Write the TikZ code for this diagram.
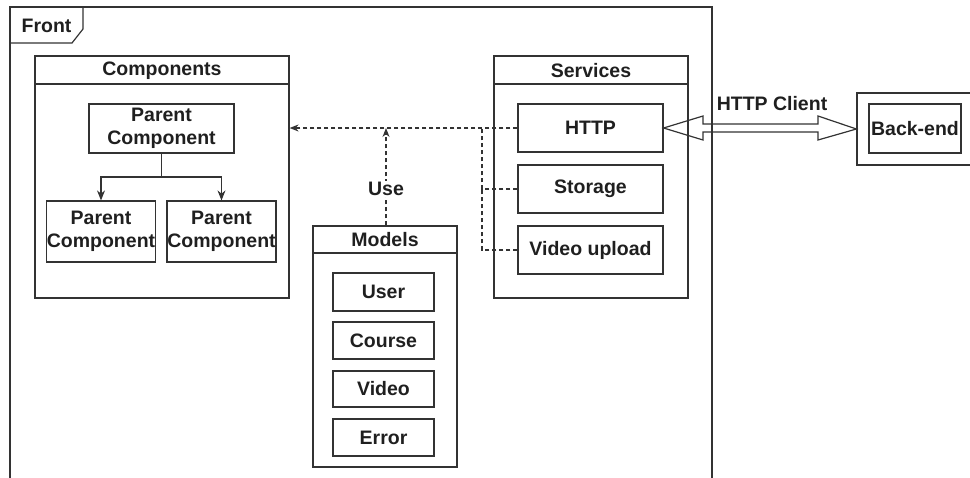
\documentclass[tikz,border=0pt]{standalone}
\usepackage{fontspec}
\setmainfont{Liberation Sans}
\usetikzlibrary{arrows.meta}
\definecolor{ink}{HTML}{333333}
\definecolor{txt}{HTML}{1F1F1F}
\tikzset{
  every node/.style={font=\fontsize{19.5}{22.5}\selectfont\bfseries, text=txt},
  box/.style={draw=ink, line width=1.2pt, inner sep=0pt, align=center},
  lbl/.style={inner sep=1pt},
  tree/.style={draw=ink, line width=1.2pt, -{Stealth[length=10pt,width=8pt]}},
  dep/.style={draw=ink, line width=1.2pt, dash pattern=on 4pt off 3pt},
  deparrow/.style={dep, -{Stealth[length=9pt,width=7pt]}},
}
\begin{document}
\begin{tikzpicture}[x=1pt, y=-1pt]
\useasboundingbox (0,0) rectangle (970,477);
\clip (0,0) rectangle (970,477);

% Front frame with its tab
\draw[ink, line width=1.2pt] (10,490) -- (10,7) -- (712,7) -- (712,490);
\draw[ink, line width=1.2pt] (83,7) -- (83,29) -- (72,43) -- (10,43);
\node[lbl] (front) at (46.5,25.5) {Front};

% Components container
\node[box, minimum width=254pt, minimum height=242pt] (comp) at (162,177) {};
\draw[ink, line width=1.2pt] (35,84) -- (289,84);
\node[lbl] (compT) at (162,71) {Components};
\node[box, minimum width=145pt, minimum height=49pt] (parent) at (161.5,128.5) {Parent\\Component};
\node[box, minimum width=108pt, minimum height=61pt] (childL) at (101,231.5) {Parent\\Component};
\node[box, minimum width=109pt, minimum height=61pt] (childR) at (221.5,231.5) {Parent\\Component};
\coordinate (split) at (161.5,177);
\draw[draw=ink, line width=1.2pt] (parent.south) -- (split);
\draw[tree] (split) -| (childL.north);
\draw[tree] (split) -| (childR.north);

% Services container
\node[box, minimum width=194pt, minimum height=242pt] (serv) at (591,177) {};
\draw[ink, line width=1.2pt] (494,84) -- (688,84);
\node[lbl] (servT) at (591,71) {Services};
\node[box, minimum width=145pt, minimum height=48pt] (http) at (590.5,128) {HTTP};
\node[box, minimum width=145pt, minimum height=48pt] (storage) at (590.5,189) {Storage};
\node[box, minimum width=145pt, minimum height=48pt] (upload) at (590.5,250) {Video upload};

% Models container
\node[box, minimum width=144pt, minimum height=241pt] (models) at (385,346.5) {};
\draw[ink, line width=1.2pt] (313,253) -- (457,253);
\node[lbl] (modelsT) at (385,240) {Models};
\node[box, minimum width=101pt, minimum height=38pt] (user) at (383.5,292) {User};
\node[box, minimum width=101pt, minimum height=37pt] (course) at (383.5,340.5) {Course};
\node[box, minimum width=101pt, minimum height=36pt] (video) at (383.5,389) {Video};
\node[box, minimum width=101pt, minimum height=37pt] (error) at (383.5,437.5) {Error};

% Back-end
\node[box, minimum width=116pt, minimum height=72pt] (beOuter) at (915,129) {};
\node[box, minimum width=92pt, minimum height=49pt] (backend) at (915,128.5) {Back-end};

% Usage links (dashed)
\coordinate (joinTop) at (482,128);
\coordinate (joinStorage) at (482,189);
\coordinate (joinUpload) at (482,250);
\coordinate (useTip) at (386,128);
\draw[deparrow] (http.west) -- (comp.east |- http.west);
\draw[dep] (storage.west) -- (joinStorage) -- (joinTop);
\draw[dep] (upload.west) -- (joinUpload) -- (joinStorage);
\draw[deparrow] (models.north -| useTip) -- (useTip);
\node[lbl, fill=white] (use) at (386,189) {Use};

% HTTP client double arrow
\draw[ink, line width=1.2pt, line join=miter]
  (http.east) -- (703,116) -- (703,124) -- (818,124) -- (818,116) -- (beOuter.west)
  -- (818,140) -- (818,132) -- (703,132) -- (703,140) -- cycle;
\node[lbl] (client) at (772,104) {HTTP Client};
\end{tikzpicture}
\end{document}
